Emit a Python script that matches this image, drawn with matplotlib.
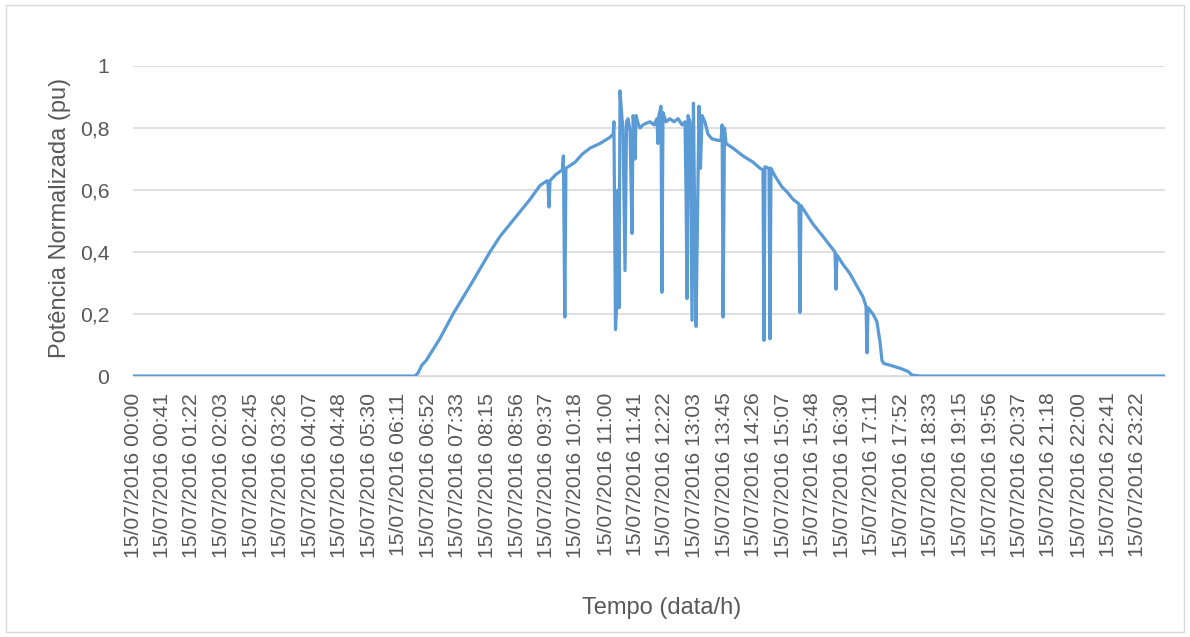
"""
Normalized PV power over one day (15/07/2016), Excel-style line chart.
"""

import matplotlib
matplotlib.use("Agg")
import matplotlib.pyplot as plt
from matplotlib.patches import Rectangle

# time of day in minutes, normalized power (pu)
minutes = [
    0, 393.5, 397.7, 403, 409, 428, 446.5, 470, 498, 512, 526, 540, 554, 568,
    578, 579, 580.4, 581.8, 590, 599, 600.5, 602.5, 604, 617, 626.5, 637.6,
    651.6, 665.5, 670, 671, 673.2, 675.3, 676.7, 678.1, 679.5, 682.3, 683.7,
    686.5, 688.6, 690.7, 693.5, 696.3, 697.7, 699, 700.5, 702, 704, 707.4,
    711.6, 715.8, 721.4, 727, 731, 732.4, 733.8, 736.7, 738, 739.5, 743.7,
    749.3, 754.8, 760.5, 766, 770.2, 771.6, 773, 774.4, 777.2, 780, 782,
    784.2, 785.6, 787.6, 789.7, 791.8, 794, 798, 802.3, 807.9, 816.3, 820.5,
    822, 823.3, 825.3, 827.4, 837.2, 851.1, 865, 874.9, 879, 880.4, 881.8,
    887.4, 888.8, 890.2, 895.8, 905.5, 914, 921, 929.2, 930.6, 932, 940.4,
    948.8, 955.8, 962.8, 971, 979.5, 980.9, 982.3, 990.7, 1000.4, 1010.2,
    1018.6, 1022.8, 1024.2, 1025.6, 1032.5, 1038, 1042.3, 1045, 1047.9,
    1056.2, 1070.2, 1081.4, 1087, 1098, 1439.75,
]
power = [
    0, 0, 0.01, 0.035, 0.05, 0.12, 0.20, 0.29, 0.40, 0.45, 0.49, 0.53, 0.57,
    0.615, 0.63, 0.625, 0.545, 0.63, 0.65, 0.665, 0.71, 0.19, 0.67, 0.69,
    0.715, 0.735, 0.75, 0.77, 0.78, 0.82, 0.15, 0.25, 0.60, 0.22, 0.92, 0.83,
    0.80, 0.34, 0.82, 0.83, 0.79, 0.46, 0.84, 0.82, 0.70, 0.84, 0.82, 0.80,
    0.81, 0.815, 0.82, 0.81, 0.83, 0.75, 0.84, 0.87, 0.27, 0.85, 0.82, 0.83,
    0.82, 0.83, 0.81, 0.82, 0.60, 0.25, 0.84, 0.82, 0.18, 0.88, 0.40, 0.16,
    0.50, 0.87, 0.67, 0.84, 0.82, 0.78, 0.765, 0.76, 0.76, 0.81, 0.19, 0.80,
    0.75, 0.735, 0.71, 0.69, 0.67, 0.665, 0.115, 0.675, 0.67, 0.12, 0.67,
    0.645, 0.61, 0.59, 0.57, 0.555, 0.205, 0.55, 0.52, 0.49, 0.47, 0.45,
    0.425, 0.40, 0.28, 0.39, 0.36, 0.33, 0.29, 0.255, 0.225, 0.075, 0.22,
    0.20, 0.175, 0.11, 0.05, 0.04, 0.035, 0.025, 0.015, 0.003, 0, 0,
]

date_label = "15/07/2016"
tick_times = [
    "00:00", "00:41", "01:22", "02:03", "02:45", "03:26", "04:07", "04:48",
    "05:30", "06:11", "06:52", "07:33", "08:15", "08:56", "09:37", "10:18",
    "11:00", "11:41", "12:22", "13:03", "13:45", "14:26", "15:07", "15:48",
    "16:30", "17:11", "17:52", "18:33", "19:15", "19:56", "20:37", "21:18",
    "22:00", "22:41", "23:22",
]
y_ticks = [0, 0.2, 0.4, 0.6, 0.8, 1.0]

FONT = "Liberation Sans"
TEXT_COLOR = "#595959"
GRID_COLOR = "#d9d9d9"
LINE_COLOR = "#5b9bd5"


def to_minutes(hhmm):
    h, m = hhmm.split(":")
    return int(h) * 60 + int(m)


fig = plt.figure(figsize=(11.9, 6.37), dpi=100)
fig.patches.append(Rectangle((0.005, 0.008), 0.99, 0.984, transform=fig.transFigure,
                             fill=False, edgecolor=GRID_COLOR, linewidth=1.0))

ax = fig.add_axes([0.1118, 0.4097, 0.8672, 0.4867])
ax.plot(minutes, power, color=LINE_COLOR, linewidth=2.3, solid_joinstyle="round", zorder=3)

ax.set_xlim(0, 1440)
ax.set_ylim(0, 1)

ax.set_yticks(y_ticks)
ax.set_yticklabels([f"{v:g}".replace(".", ",") for v in y_ticks])
ax.set_xticks([to_minutes(t) for t in tick_times])
ax.set_xticklabels([f"{date_label} {t}" for t in tick_times], rotation=90,
                   ha="center", va="top")

ax.tick_params(axis="both", length=0, labelsize=15.2, labelcolor=TEXT_COLOR)
ax.tick_params(axis="x", pad=12)
ax.tick_params(axis="y", pad=17)
for lbl in ax.get_xticklabels() + ax.get_yticklabels():
    lbl.set_fontfamily(FONT)

ax.grid(axis="y", color=GRID_COLOR, linewidth=1.2)
ax.set_axisbelow(True)
for side in ["top", "right", "left"]:
    ax.spines[side].set_visible(False)
ax.spines["bottom"].set_color(GRID_COLOR)

fig.text(0.0504, 0.6577, "Potência Normalizada (pu)", rotation=90, ha="center",
         va="center", fontsize=17, color=TEXT_COLOR, family=FONT)
fig.text(0.5563, 0.0455, "Tempo (data/h)", ha="center", va="center",
         fontsize=17, color=TEXT_COLOR, family=FONT)

fig.savefig("out.png", dpi=100)
plt.close(fig)
